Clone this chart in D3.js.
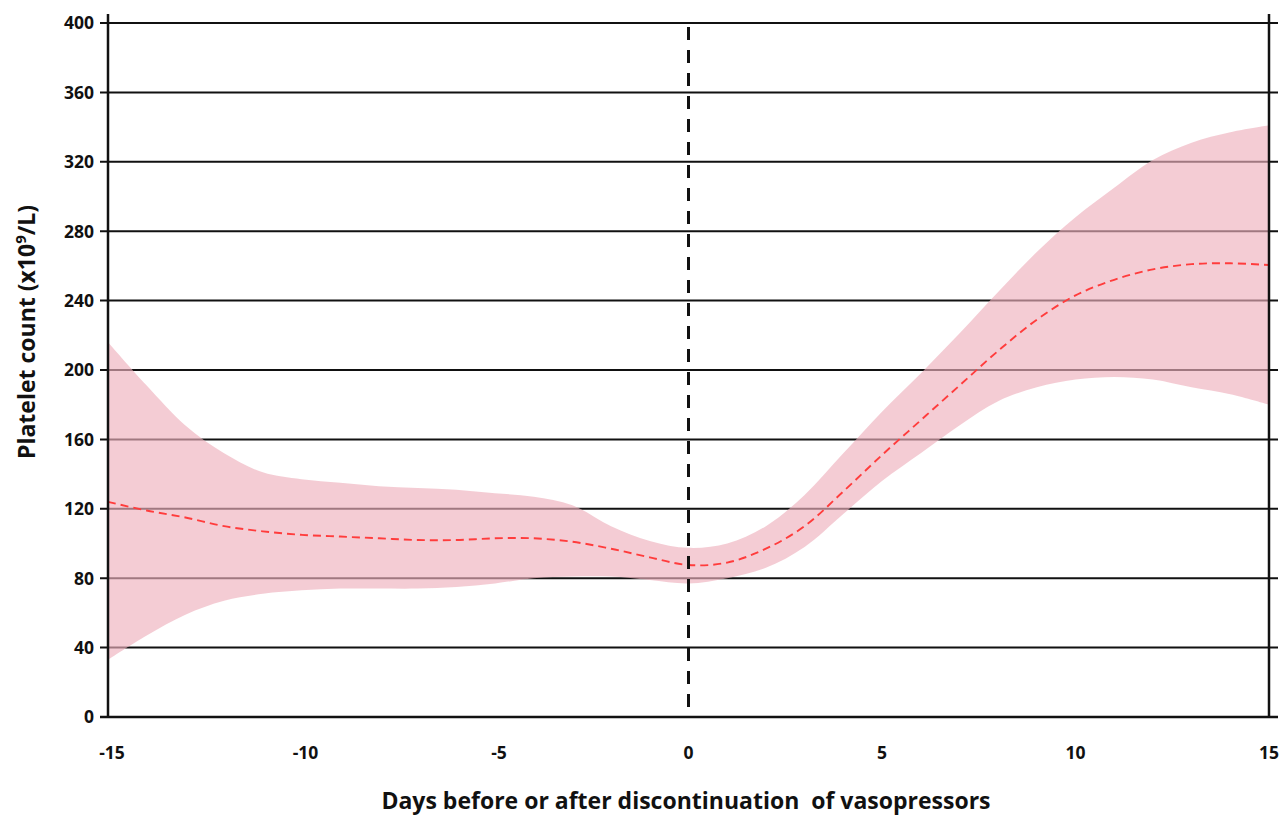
<!DOCTYPE html>
<html>
<head>
<meta charset="utf-8">
<script src="https://cdn.jsdelivr.net/npm/d3@7"></script>
<style>
  body { margin: 0; background: #fff; }
  text { font-family: 'Open Sans', sans-serif; font-weight: bold; fill: #111; white-space: pre; }
</style>
</head>
<body>
<svg id="chart" width="1282" height="815"></svg>
<script>
// days relative to vasopressor discontinuation
const days = d3.range(-15, 16)
// smoothed mean platelet count (x10^9/L)
const meanCount = [124, 119, 115, 110, 107, 105, 104, 103, 102, 102, 103, 103, 101, 97, 92, 87.6,
  89, 97, 110, 130, 151, 171, 191, 211, 229, 243, 252, 258, 261, 261.5, 260.5]
// confidence band
const lowerCount = [33, 47, 59, 67, 71, 73, 74, 74, 74, 75, 77, 80, 81, 81, 79, 77,
  80, 86, 98, 117, 136, 152, 168, 182, 190, 194.5, 196, 194.5, 190, 186, 180]
const upperCount = [216, 191, 168, 152, 141, 137, 135, 133, 132, 131, 129, 127, 122, 110, 101.5, 97.5,
  100, 110, 128, 152, 176, 198, 221, 245, 268, 288, 305, 321, 331, 337, 341]
const yTicks = [0, 40, 80, 120, 160, 200, 240, 280, 320, 360, 400]
const xTicks = [-15, -10, -5, 0, 5, 10, 15]

const svg = d3.select('#chart')
const x = d3.scaleLinear().domain([-15, 15]).range([108, 1269])
const y = d3.scaleLinear().domain([0, 400]).range([717, 23])

const rows = days.map((d, i) => ({ day: d, mean: meanCount[i], lo: lowerCount[i], hi: upperCount[i] }))
const curve = d3.curveCatmullRom.alpha(0.5)

// horizontal grid lines, sticking out a little past both axes
svg.append('g')
  .selectAll('line')
  .data(yTicks.filter((t) => t > 0))
  .join('line')
  .attr('x1', 100).attr('x2', 1278)
  .attr('y1', (d) => y(d)).attr('y2', (d) => y(d))
  .attr('stroke', '#111').attr('stroke-width', 2)

// band
svg.append('path')
  .datum(rows)
  .attr('d', d3.area().curve(curve)
    .x((d) => x(d.day)).y0((d) => y(d.lo)).y1((d) => y(d.hi)))
  .attr('fill', 'rgb(238,177,189)')
  .attr('fill-opacity', 0.65)

// mean line
svg.append('path')
  .datum(rows)
  .attr('d', d3.line().curve(curve).x((d) => x(d.day)).y((d) => y(d.mean)))
  .attr('fill', 'none')
  .attr('stroke', '#ff3c3c')
  .attr('stroke-width', 1.9)
  .attr('stroke-dasharray', '8,5')

// frame: left, right and bottom axes
svg.append('line').attr('x1', x(-15)).attr('x2', x(-15)).attr('y1', 14).attr('y2', 718)
  .attr('stroke', '#111').attr('stroke-width', 2.5)
svg.append('line').attr('x1', x(15)).attr('x2', x(15)).attr('y1', 14).attr('y2', 718)
  .attr('stroke', '#111').attr('stroke-width', 2.5)
svg.append('line').attr('x1', 100).attr('x2', 1278).attr('y1', y(0)).attr('y2', y(0))
  .attr('stroke', '#111').attr('stroke-width', 2.5)

// day 0 marker
svg.append('line')
  .attr('x1', x(0)).attr('x2', x(0)).attr('y1', 27).attr('y2', 717)
  .attr('stroke', '#111').attr('stroke-width', 3)
  .attr('stroke-dasharray', '13,10')

// tick labels
svg.append('g')
  .selectAll('text')
  .data(yTicks)
  .join('text')
  .attr('x', 94).attr('y', (d) => y(d))
  .attr('dy', '0.36em')
  .attr('text-anchor', 'end')
  .attr('font-size', 17.5)
  .text((d) => d)

svg.append('g')
  .selectAll('text')
  .data(xTicks)
  .join('text')
  .attr('x', (d) => x(d) + (d < 0 ? 4 : 0)).attr('y', 753)
  .attr('dy', '0.36em')
  .attr('text-anchor', 'middle')
  .attr('font-size', 17.5)
  .text((d) => d)

// axis titles
svg.append('text')
  .attr('x', 686).attr('y', 801)
  .attr('dy', '0.36em')
  .attr('text-anchor', 'middle')
  .attr('font-size', 23)
  .text('Days before or after discontinuation  of vasopressors')

const yTitle = svg.append('text')
  .attr('transform', 'translate(27,332) rotate(-90)')
  .attr('dy', '0.36em')
  .attr('text-anchor', 'middle')
  .attr('font-size', 23)
yTitle.append('tspan').text('Platelet count (x10')
yTitle.append('tspan').attr('font-size', 15).attr('dy', '-0.6em').text('9')
yTitle.append('tspan').attr('dy', '0.4em').text('/L)')
</script>
</body>
</html>
